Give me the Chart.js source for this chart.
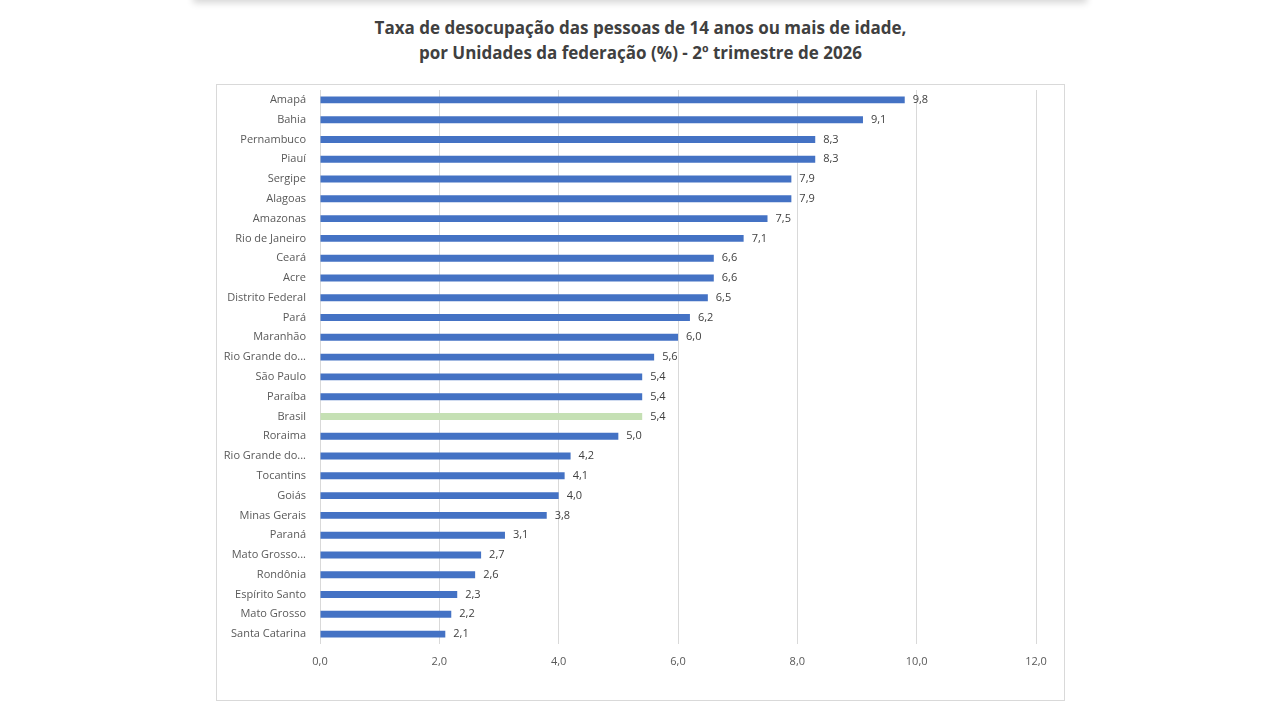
<!DOCTYPE html>
<html lang="pt-BR">
<head>
<meta charset="utf-8">
<title>Taxa de desocupação por UF</title>
<script src="https://cdn.jsdelivr.net/npm/chart.js@4.4.1/dist/chart.umd.min.js"></script>
<style>
  html, body { margin: 0; padding: 0; background: #fff; }
  body { width: 1280px; height: 720px; position: relative; overflow: hidden; font-family: "Open Sans", sans-serif; }
  #shade { position: absolute; left: 193px; top: -12px; width: 894px; height: 12px; box-shadow: 0 3px 7px rgba(0,0,0,0.16); background: #eee; }
  #titulo { position: absolute; left: 217px; top: 15px; width: 847px; text-align: center; font-weight: 700; font-size: 17px; line-height: 25px; color: #404040; }
  #caixa { position: absolute; left: 216px; top: 84px; width: 847px; height: 615px; border: 1px solid #d9d9d9; }
  canvas { display: block; }
</style>
</head>
<body>
<div id="shade"></div>
<div id="titulo">Taxa de desocupação das pessoas de 14 anos ou mais de idade,<br>por Unidades da federação (%) - 2º trimestre de 2026</div>
<div id="caixa"><canvas id="grafico" width="847" height="615"></canvas></div>
<script>
// dados
const estados = [
  "Amapá", "Bahia", "Pernambuco", "Piauí", "Sergipe", "Alagoas", "Amazonas",
  "Rio de Janeiro", "Ceará", "Acre", "Distrito Federal", "Pará", "Maranhão",
  "Rio Grande do Norte", "São Paulo", "Paraíba", "Brasil", "Roraima",
  "Rio Grande do Sul", "Tocantins", "Goiás", "Minas Gerais", "Paraná",
  "Mato Grosso do Sul", "Rondônia", "Espírito Santo", "Mato Grosso", "Santa Catarina"
];
const taxas = [
  9.8, 9.1, 8.3, 8.3, 7.9, 7.9, 7.5,
  7.1, 6.6, 6.6, 6.5, 6.2, 6.0,
  5.6, 5.4, 5.4, 5.4, 5.0,
  4.2, 4.1, 4.0, 3.8, 3.1,
  2.7, 2.6, 2.3, 2.2, 2.1
];
const eixoX = [0, 2, 4, 6, 8, 10, 12];

const azul = "#4472c4";
const verde = "#c5e0b4";

function virgula(v) {
  return v.toFixed(1).replace(".", ",");
}

// corta nomes longos como o Excel faz
function encurta(nome) {
  if (nome.length <= 16) return nome;
  const partes = nome.split(" ");
  let r = "";
  for (let i = 0; i < partes.length; i++) {
    const t = r ? r + " " + partes[i] : partes[i];
    if (t.length + 3 > 16) break;
    r = t;
  }
  return r + "...";
}

// rótulos de valor na ponta das barras
const rotulos = {
  id: "rotulos",
  afterDatasetsDraw(chart) {
    const ctx = chart.ctx;
    const meta = chart.getDatasetMeta(0);
    ctx.save();
    ctx.font = "11px 'Open Sans', sans-serif";
    ctx.fillStyle = "#404040";
    ctx.textBaseline = "middle";
    ctx.textAlign = "left";
    meta.data.forEach(function(bar, i) {
      ctx.fillText(virgula(taxas[i]), bar.x + 8, bar.y);
    });
    ctx.restore();
  }
};

new Chart(document.getElementById("grafico").getContext("2d"), {
  type: "bar",
  data: {
    labels: estados,
    datasets: [{
      data: taxas,
      backgroundColor: estados.map(e => e === "Brasil" ? verde : azul),
      barPercentage: 0.7,
      categoryPercentage: 0.5
    }]
  },
  options: {
    indexAxis: "y",
    responsive: false,
    animation: false,
    layout: { padding: { top: 5, right: 28, left: 0, bottom: 0 } },
    plugins: {
      legend: { display: false },
      tooltip: { enabled: false }
    },
    scales: {
      x: {
        min: eixoX[0],
        max: eixoX[eixoX.length - 1],
        afterBuildTicks(axis) { axis.ticks = eixoX.map(v => ({ value: v })); },
        afterFit(axis) { axis.height = 56; },
        border: { display: false },
        grid: { color: "#d9d9d9", drawTicks: false },
        ticks: {
          padding: 11,
          color: "#595959",
          font: { family: "'Open Sans', sans-serif", size: 11 },
          callback: v => virgula(v)
        }
      },
      y: {
        afterFit(axis) {
          axis.width = 103;
          axis.paddingTop = 0;
          axis.paddingBottom = 0;
        },
        border: { display: false },
        grid: { display: false },
        ticks: {
          padding: 6,
          autoSkip: false,
          color: "#595959",
          font: { family: "'Open Sans', sans-serif", size: 11 },
          callback: function(v, i) { return encurta(estados[i]); }
        }
      }
    }
  },
  plugins: [rotulos]
});
</script>
</body>
</html>
